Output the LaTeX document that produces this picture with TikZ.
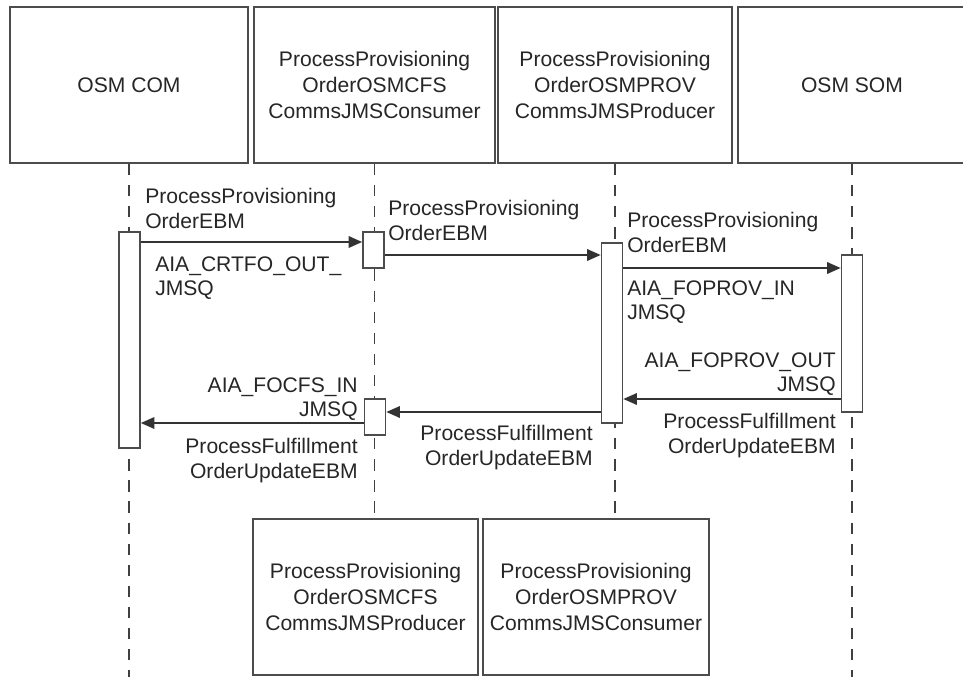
\documentclass[tikz,border=0pt]{standalone}
\usepackage{fontspec}
\setmainfont{Liberation Sans}
\usetikzlibrary{arrows.meta}
\usetikzlibrary{positioning}

\begin{document}
\begin{tikzpicture}[x=0.025cm,y=-0.025cm,
  objbox/.style={draw=black!70,line width=1.4pt,fill=white,inner sep=0pt,
    align=center,text=black!85,font=\fontsize{15}{18.4}\selectfont},
  actbar/.style={draw=black!70,line width=1.2pt,fill=white,inner sep=0pt,minimum width=21*0.025cm},
  lifeline/.style={draw=black!75,line width=1.1pt,dash pattern=on 8pt off 7pt},
  msg/.style={draw=black!80,line width=1.2pt,-{Triangle[length=3.4mm,width=2.9mm]}},
  lbl/.style={inner sep=0pt,text=black!85,font=\fontsize{15}{17.7}\selectfont}]
\useasboundingbox (0,0) rectangle (963,677);

% objects on top
\node[objbox,minimum width=238*0.025cm,minimum height=156*0.025cm] (com) at (129,85) {OSM COM};
\node[objbox,minimum width=241*0.025cm,minimum height=156*0.025cm] (cfsc) at (374.5,85) {ProcessProvisioning\\OrderOSMCFS\\CommsJMSConsumer};
\node[objbox,minimum width=234*0.025cm,minimum height=156*0.025cm] (provp) at (615,85) {ProcessProvisioning\\OrderOSMPROV\\CommsJMSProducer};
\node[objbox,minimum width=228*0.025cm,minimum height=156*0.025cm] (som) at (852,85) {OSM SOM};

% objects at the bottom
\node[objbox,minimum width=225*0.025cm,minimum height=156*0.025cm] (cfsp) at (365.5,597) {ProcessProvisioning\\OrderOSMCFS\\CommsJMSProducer};
\node[objbox,minimum width=226*0.025cm,minimum height=156*0.025cm] (provc) at (596,597) {ProcessProvisioning\\OrderOSMPROV\\CommsJMSConsumer};

% lifelines
\coordinate (bot) at (0,677);
\draw[lifeline] (com.south) -- (com.south |- bot);
\draw[lifeline] (cfsc.south) -- (cfsc.south |- cfsp.north);
\draw[lifeline] (provp.south) -- (provp.south |- cfsp.north);
\draw[lifeline] (som.south) -- (som.south |- bot);

% activations
\node[actbar,minimum height=216*0.025cm] (acom) at (129.5,340) {};
\node[actbar,minimum height=36*0.025cm] (acfs1) at (373.5,250) {};
\node[actbar,minimum height=180*0.025cm] (aprov) at (612,333) {};
\node[actbar,minimum height=157*0.025cm] (asom) at (852,333.5) {};
\node[actbar,minimum height=36*0.025cm] (acfs2) at (375,417) {};

% message levels
\coordinate (m1) at (0,242);
\coordinate (m2) at (0,255);
\coordinate (m3) at (0,268);
\coordinate (m4) at (0,399);
\coordinate (m5) at (0,412);
\coordinate (m6) at (0,423);

\draw[msg] (acom.east |- m1) -- (acfs1.west |- m1);
\draw[msg] (acfs1.east |- m2) -- (aprov.west |- m2);
\draw[msg] (aprov.east |- m3) -- (asom.west |- m3);
\draw[msg] (asom.west |- m4) -- (aprov.east |- m4);
\draw[msg] (aprov.west |- m5) -- (acfs2.east |- m5);
\draw[msg] (acfs2.west |- m6) -- (acom.east |- m6);

% labels
\node[lbl,align=left,anchor=north west] (l1a) at (145,188) {ProcessProvisioning\\OrderEBM};
\node[lbl,align=left,anchor=north west] (l1b) at (155,256) {AIA\_CRTFO\_OUT\_\\JMSQ};
\node[lbl,align=left,anchor=north west] (l2a) at (388,200) {ProcessProvisioning\\OrderEBM};
\node[lbl,align=left,anchor=north west] (l3a) at (627,212) {ProcessProvisioning\\OrderEBM};
\node[lbl,align=left,anchor=north west] (l3b) at (627,280) {AIA\_FOPROV\_IN\\JMSQ};
\node[lbl,align=right,anchor=north east] (l4a) at (836,352) {AIA\_FOPROV\_OUT\\JMSQ};
\node[lbl,align=right,anchor=north east] (l4b) at (836,413) {ProcessFulfillment\\OrderUpdateEBM};
\node[lbl,align=right,anchor=north east] (l5) at (593,425) {ProcessFulfillment\\OrderUpdateEBM};
\node[lbl,align=right,anchor=north east] (l6a) at (358,377) {AIA\_FOCFS\_IN\\JMSQ};
\node[lbl,align=right,anchor=north east] (l6b) at (358,438) {ProcessFulfillment\\OrderUpdateEBM};

\end{tikzpicture}
\end{document}
